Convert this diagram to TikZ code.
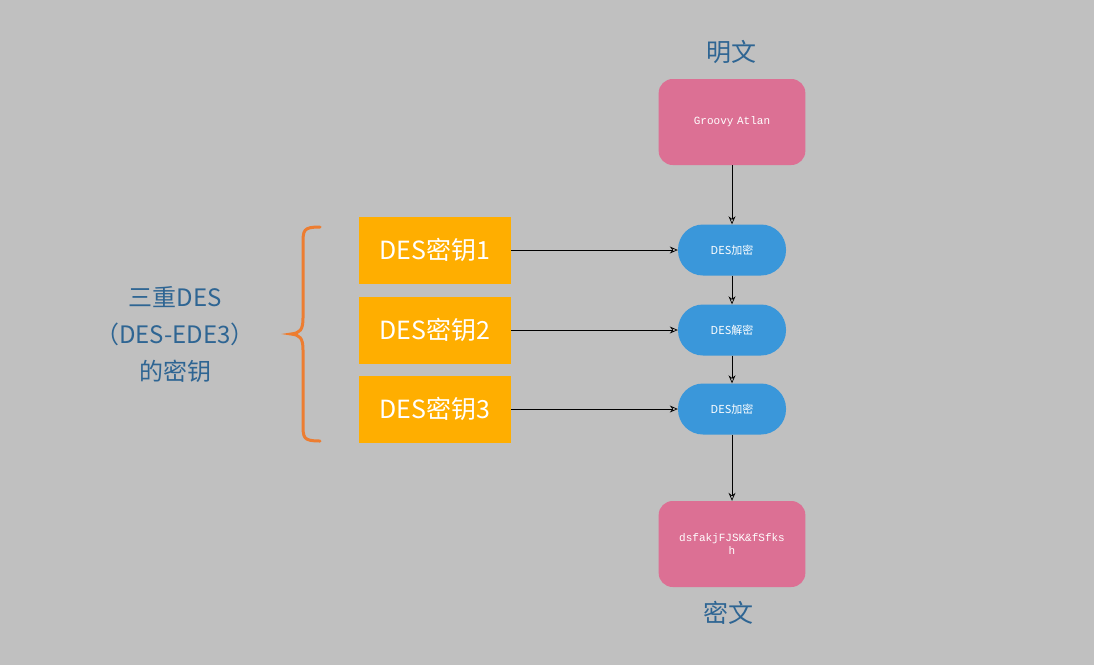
\documentclass[tikz,border=0pt]{standalone}
\usepackage{fontspec}
\newfontfamily\cjk{Noto Sans CJK SC}
\newfontfamily\mono{Liberation Mono}
\usetikzlibrary{arrows.meta}
\definecolor{bg}{HTML}{C0C0C0}
\definecolor{pinkc}{HTML}{DC7094}
\definecolor{bluec}{HTML}{3A97DA}
\definecolor{orangec}{HTML}{FFAE00}
\definecolor{titlec}{HTML}{2E6593}
\definecolor{bracec}{HTML}{ED7D31}
\begin{document}
\begin{tikzpicture}[x=1pt,y=-1pt,
  pinkbox/.style={fill=pinkc,rounded corners=14pt,minimum width=146pt,minimum height=86pt,text=white,font=\mono\fontsize{11}{13}\selectfont,align=center,text width=140pt},
  pill/.style={fill=bluec,rounded corners=25pt,minimum width=108pt,minimum height=51pt,text=white,font=\cjk\fontsize{11}{13}\selectfont},
  keybox/.style={fill=orangec,minimum width=152pt,minimum height=67pt,text=white,font=\cjk\itshape\fontsize{25}{28}\selectfont},
  title/.style={text=titlec,font=\cjk\fontsize{25}{30}\selectfont,align=center},
  arr/.style={draw=black,-{Stealth[open,length=8pt,width=7pt]},line width=0.7pt}]
\fill[bg] (0,0) rectangle (1094,665);
\useasboundingbox (0,0) rectangle (1094,665);
\node[title] (t1) at (731,52) {明文};
\node[title] (t2) at (728,613) {密文};
\node[pinkbox] (p1) at (732,122) {Groovy Atlan};
\node[pinkbox] (p2) at (732,544) {dsfakjFJSK\&fSfks\\h};
\node[pill] (b1) at (732,250) {DES加密};
\node[pill] (b2) at (732,330) {DES解密};
\node[pill] (b3) at (732,409) {DES加密};
\node[keybox] (k1) at (435,250) {DES密钥1};
\node[keybox] (k2) at (435,330) {DES密钥2};
\node[keybox] (k3) at (435,409) {DES密钥3};
\draw[arr] (k1) -- (b1);
\draw[arr] (k2) -- (b2);
\draw[arr] (k3) -- (b3);
\draw[arr] (p1) -- (b1);
\draw[arr] (b1) -- (b2);
\draw[arr] (b2) -- (b3);
\draw[arr] (b3) -- (p2);
\node[title,font=\cjk\fontsize{24}{37}\selectfont] (lbl) at (175,335) {三重DES\\（DES-EDE3）\\的密钥};
\draw[bracec,line width=3pt,line cap=round] (320,227) .. controls (303,227) and (303,230) .. (303,245)
  -- (303,318) .. controls (303,330) and (300,333) .. (291,334)
  .. controls (300,335) and (303,338) .. (303,350) -- (303,423)
  .. controls (303,438) and (303,441) .. (320,441);
\end{tikzpicture}
\end{document}
